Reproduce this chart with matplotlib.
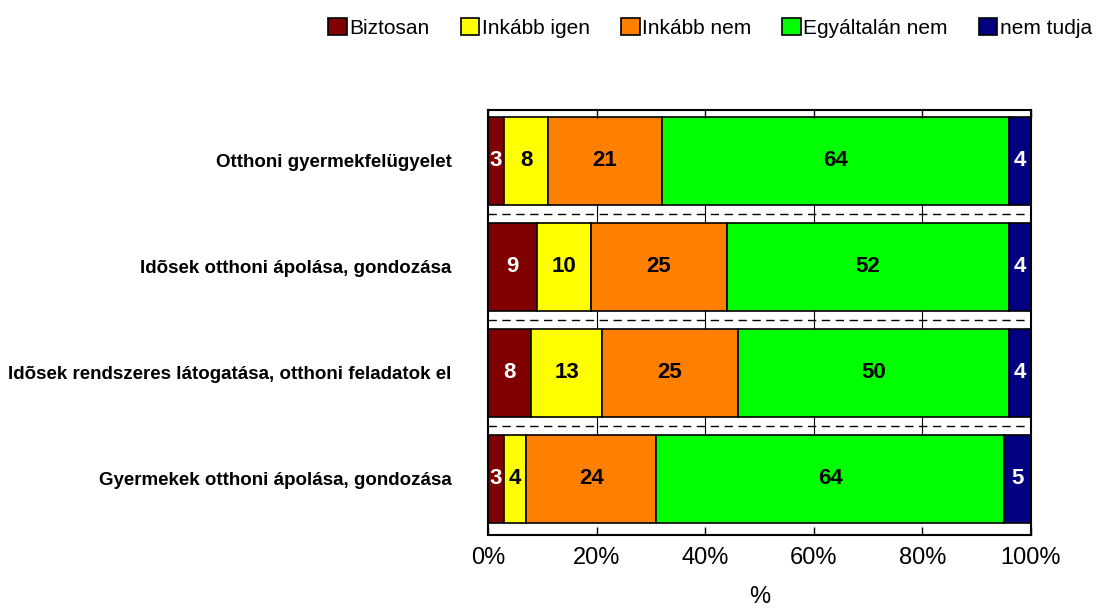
import numpy as np
import matplotlib
matplotlib.use("Agg")
from matplotlib import pyplot as plt

categories = ["Otthoni gyermekfelügyelet",
              "Idõsek otthoni ápolása, gondozása",
              "Idõsek rendszeres látogatása, otthoni feladatok el",
              "Gyermekek otthoni ápolása, gondozása"]
series = ["Biztosan", "Inkább igen", "Inkább nem", "Egyáltalán nem", "nem tudja"]
biztosan = [3, 9, 8, 3]
inkabb_igen = [8, 10, 13, 4]
inkabb_nem = [21, 25, 25, 24]
egyaltalan_nem = [64, 52, 50, 64]
nem_tudja = [4, 4, 4, 5]
xticks = [0, 20, 40, 60, 80, 100]

colors = ["#800000", "#ffff00", "#ff8000", "#00ff00", "#000080"]
text_colors = ["white", "black", "black", "black", "white"]

plt.rcParams["font.family"] = ["Liberation Sans", "DejaVu Sans"]

fig = plt.figure(figsize=(11.07, 6.14), dpi=100)
ax = fig.add_axes([0.4408, 0.1287, 0.4905, 0.6921])

data = [biztosan, inkabb_igen, inkabb_nem, egyaltalan_nem, nem_tudja]
y = np.arange(len(categories))
h = 0.83
left = np.zeros(len(categories))
for vals, name, col, tc in zip(data, series, colors, text_colors):
    vals = np.array(vals, dtype=float)
    ax.barh(y, vals, left=left, height=h, color=col, edgecolor="black",
            linewidth=1.2, label=name)
    for yi, (l, v) in enumerate(zip(left, vals)):
        ax.text(l + v / 2, yi, f"{int(v)}", ha="center", va="center",
                fontsize=16, fontweight="bold", color=tc)
    left += vals

# dashed separators between bars
for k in range(len(categories) - 1):
    ax.axhline(k + 0.5, color="black", linestyle=(0, (6, 4)), linewidth=1)
    for xt in xticks[1:-1]:
        ax.plot([xt, xt], [k + 0.5 - 0.08, k + 0.5 + 0.08], color="black", lw=0.8)

ax.set_xlim(0, 100)
ax.set_ylim(3.53, -0.48)
ax.set_yticks(y)
ax.set_yticklabels(categories, fontsize=13.5, fontweight="bold")
ax.tick_params(axis="y", length=0, pad=26)
ax.set_xticks(xticks)
ax.set_xticklabels([f"{t}%" for t in xticks], fontsize=17)
ax.tick_params(axis="x", direction="in", length=6, top=True, width=1, pad=9)
ax.set_xlabel("%", fontsize=17, labelpad=12)
for s in ax.spines.values():
    s.set_linewidth(1.5)

fig.legend(loc="upper right", bbox_to_anchor=(1.005, 1.005), ncol=5, frameon=False,
           fontsize=15, handlelength=0.9, handleheight=0.9, handletextpad=0.1,
           columnspacing=1.5, borderaxespad=0.6)

fig.savefig("out.png", dpi=100)
